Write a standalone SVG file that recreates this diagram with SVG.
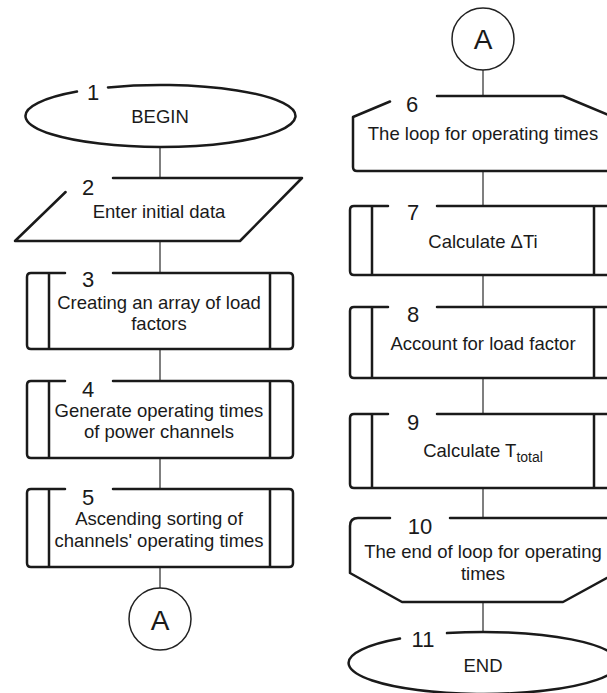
<svg xmlns="http://www.w3.org/2000/svg" width="607" height="693" viewBox="0 0 607 693">
<style>
.sh{fill:#fff;stroke:#1a1a1a;stroke-width:2.5;stroke-linejoin:round;stroke-linecap:round}
.ln{fill:none;stroke:#1a1a1a;stroke-width:2.5;stroke-linecap:butt}
.cn{fill:none;stroke:#555;stroke-width:1.5}
.ci{fill:#fff;stroke:#222;stroke-width:1.5}
text{font-family:"Liberation Sans",Arial,Helvetica,sans-serif;fill:#1a1a1a}
.t{font-size:18.5px;text-anchor:middle}
.n{font-size:22px;text-anchor:middle}
.a{font-size:28px;text-anchor:middle}
</style>
<rect width="607" height="693" fill="#fff"/>
<g id="connectors">
<path class="cn" d="M160,147V178M160,241V273M160,349V381M160,458V489M160,567V588"/>
<path class="cn" d="M483,70V96M483,171V206M483,275V307M483,378V414M483,488V518M483,602V632"/>
</g>
<g id="node1">
<path class="sh" d="M108,87.4A135,31 0 1 1 77,91.6"/>
<text class="n" x="93" y="100">1</text>
<text class="t" x="160" y="123">BEGIN</text>
</g>
<g id="node2">
<path class="sh" d="M113,178H302L240,241H15L65.6,192"/>
<text class="n" x="88" y="195">2</text>
<text class="t" x="159" y="218">Enter initial data</text>
</g>
<g id="node3">
<path class="sh" d="M113,273H289Q293,273 293,277V345Q293,349 289,349H31Q27,349 27,345V277Q27,273 31,273H65"/>
<path class="ln" d="M49,273V349M270,273V349"/>
<text class="n" x="88" y="287">3</text>
<text class="t" x="159" y="309">Creating an array of load</text>
<text class="t" x="159" y="330">factors</text>
</g>
<g id="node4">
<path class="sh" d="M113,381H289Q293,381 293,385V454Q293,458 289,458H31Q27,458 27,454V385Q27,381 31,381H65"/>
<path class="ln" d="M49,381V458M270,381V458"/>
<text class="n" x="88" y="397">4</text>
<text class="t" x="159" y="417">Generate operating times</text>
<text class="t" x="159" y="438">of power channels</text>
</g>
<g id="node5">
<path class="sh" d="M113,489H289Q293,489 293,493V563Q293,567 289,567H31Q27,567 27,563V493Q27,489 31,489H65"/>
<path class="ln" d="M49,489V567M270,489V567"/>
<text class="n" x="88" y="505">5</text>
<text class="t" x="159" y="525">Ascending sorting of</text>
<text class="t" x="159" y="547">channels' operating times</text>
</g>
<g id="connectorA1">
<circle class="ci" cx="160" cy="619" r="31"/>
<text class="a" x="160" y="630">A</text>
</g>
<g id="connectorA2">
<circle class="ci" cx="483" cy="39" r="31"/>
<text class="a" x="483" y="49">A</text>
</g>
<g id="node6">
<path class="sh" d="M437,96H563L613,117V167Q613,171 609,171H357Q353,171 353,167V117L390,101.5"/>
<text class="n" x="412" y="112">6</text>
<text class="t" x="483" y="140">The loop for operating times</text>
</g>
<g id="node7">
<path class="sh" d="M437,206H612Q616,206 616,210V271Q616,275 612,275H354Q350,275 350,271V210Q350,206 354,206H388"/>
<path class="ln" d="M372,206V275M594,206V275"/>
<text class="n" x="413" y="220">7</text>
<text class="t" x="483" y="248">Calculate ΔTi</text>
</g>
<g id="node8">
<path class="sh" d="M437,307H612Q616,307 616,311V374Q616,378 612,378H354Q350,378 350,374V311Q350,307 354,307H388"/>
<path class="ln" d="M372,307V378M594,307V378"/>
<text class="n" x="413" y="322">8</text>
<text class="t" x="483" y="350">Account for load factor</text>
</g>
<g id="node9">
<path class="sh" d="M437,414H612Q616,414 616,418V484Q616,488 612,488H354Q350,488 350,484V418Q350,414 354,414H388"/>
<path class="ln" d="M372,414V488M594,414V488"/>
<text class="n" x="413" y="430">9</text>
<text class="t" x="483" y="457">Calculate T<tspan font-size="14" dy="5">total</tspan></text>
</g>
<g id="node10">
<path class="sh" d="M450,518H612Q616,518 616,522V573L563,602H402L350,573V526Q350,518 358,518H390"/>
<text class="n" x="420" y="534">10</text>
<text class="t" x="483" y="558">The end of loop for operating</text>
<text class="t" x="483" y="580">times</text>
</g>
<g id="node11">
<path class="sh" d="M447,633.1A135,31 0 1 1 400,638.6"/>
<text class="n" x="423" y="647">11</text>
<text class="t" x="483" y="672">END</text>
</g>
</svg>
